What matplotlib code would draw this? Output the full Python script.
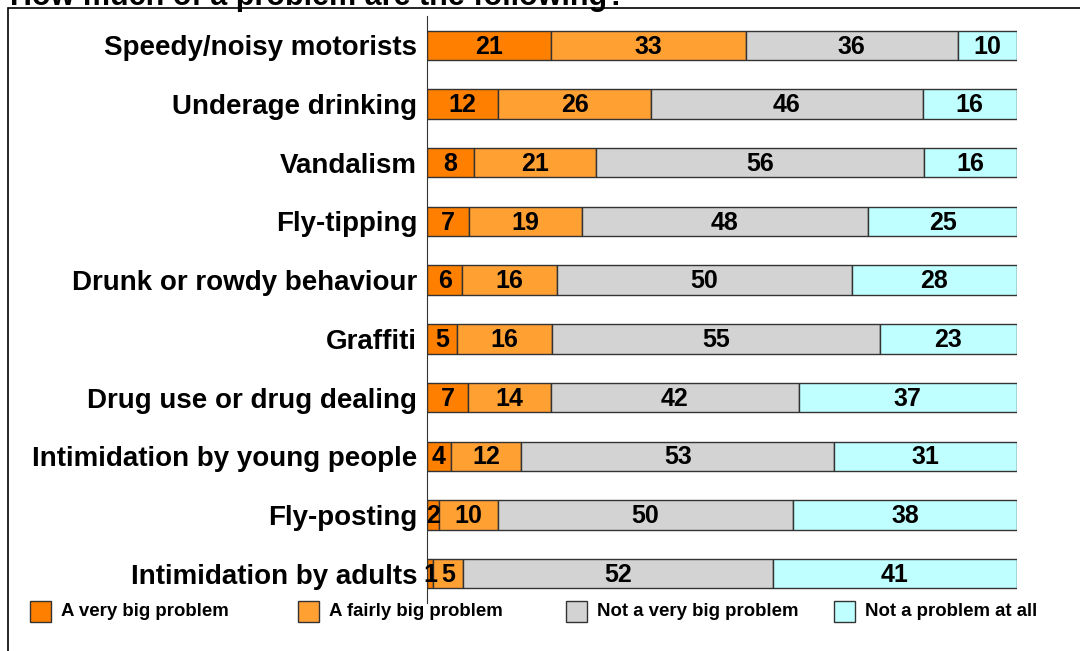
import matplotlib.pyplot as plt
from matplotlib.patches import Rectangle

plt.rcParams['font.family'] = ['Liberation Sans', 'DejaVu Sans']
plt.rcParams['font.weight'] = 'bold'

categories = ["Speedy/noisy motorists", "Underage drinking", "Vandalism", "Fly-tipping",
              "Drunk or rowdy behaviour", "Graffiti", "Drug use or drug dealing",
              "Intimidation by young people", "Fly-posting", "Intimidation by adults"]
very_big = [21, 12, 8, 7, 6, 5, 7, 4, 2, 1]
fairly_big = [33, 26, 21, 19, 16, 16, 14, 12, 10, 5]
not_very_big = [36, 46, 56, 48, 50, 55, 42, 53, 50, 52]
not_at_all = [10, 16, 16, 25, 28, 23, 37, 31, 38, 41]
series_names = ["A very big problem", "A fairly big problem",
                "Not a very big problem", "Not a problem at all"]
colors = ["#FF8000", "#FFA033", "#D3D3D3", "#C0FFFF"]

W, H = 1080, 651
fig = plt.figure(figsize=(W / 100, H / 100), dpi=100)

# outer frame (cut off at right/bottom in the original)
fig.patches.append(Rectangle((8 / W, -0.2), 1.2, 1.2 - 8 / H, transform=fig.transFigure,
                             fill=False, edgecolor='black', linewidth=1.2))
fig.text(10 / W, 1 - 5 / H, "How much of a problem are the following?",
         fontsize=22, fontweight='bold', va='baseline', ha='left')

ax = fig.add_axes([427 / W, 1 - 603 / H, (1017 - 427) / W, (603 - 16) / H])

# rows are stacked as shares of their own total (the printed values are rounded)
series = [very_big, fairly_big, not_very_big, not_at_all]
totals = [sum(r) for r in zip(*series)]

ypos = list(range(len(categories)))
left = [0] * len(categories)
for vals, col in zip(series, colors):
    widths = [v / t * 100 for v, t in zip(vals, totals)]
    ax.barh(ypos, widths, left=left, height=0.5, color=col, edgecolor='#333333', linewidth=1)
    for y, l, w, v in zip(ypos, left, widths, vals):
        ax.text(l + w / 2, y + 0.02, str(v), ha='center', va='center', fontsize=18, fontweight='bold')
    left = [a + b for a, b in zip(left, widths)]

ax.set_xlim(0, 100)
ax.set_ylim(len(categories) - 0.5, -0.5)
ax.set_yticks(ypos)
ax.set_yticklabels(categories, fontsize=20, fontweight='bold')
ax.tick_params(axis='y', length=0, pad=7)
ax.set_xticks([])
for s in ['top', 'right', 'bottom']:
    ax.spines[s].set_visible(False)
ax.spines['left'].set_color('#333333')

# legend drawn by hand
legend_x = [30, 298, 566, 834]
for x, name, col in zip(legend_x, series_names, colors):
    fig.patches.append(Rectangle((x / W, 1 - 622 / H), 21 / W, 21 / H, transform=fig.transFigure,
                                 facecolor=col, edgecolor='#333333', linewidth=1))
    fig.text((x + 31) / W, 1 - 612 / H, name, fontsize=13.4, fontweight='bold', va='center', ha='left')

fig.savefig('out.png', dpi=100)
